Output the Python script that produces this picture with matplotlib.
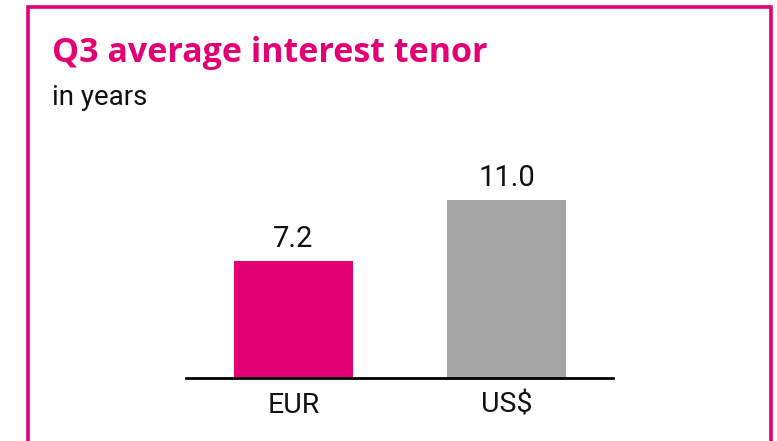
import matplotlib
matplotlib.use('Agg')
import matplotlib.pyplot as plt
from matplotlib.patches import Rectangle

categories = ['EUR', 'US$']
values = [7.2, 11.0]
labels = ['7.2', '11.0']
colors = ['#E20074', '#A5A5A5']

magenta = '#E20074'
plt.rcParams['font.family'] = ['Roboto', 'DejaVu Sans']

W, H = 777, 441
fig = plt.figure(figsize=(W / 100, H / 100), dpi=100)

# pink frame, bottom edge runs off the image
fig.patches.append(Rectangle((27.5 / W, -0.1), 743 / W, 1.1 - 7.5 / H,
                             transform=fig.transFigure, fill=False,
                             edgecolor=magenta, linewidth=2.6))

ax = fig.add_axes([186 / W, 1 - 378 / H, 427 / W, 218 / H])
x = [0, 1]
ax.bar(x, values, width=0.56, color=colors)
for xi, v, t in zip(x, values, labels):
    ax.text(xi, v + 0.86, t, ha='center', va='baseline', fontsize=21, color='#111111')

ax.set_xlim(-0.505, 1.5)
ax.set_ylim(0, 218 / 16.2)
ax.set_xticks(x)
ax.set_xticklabels(categories, fontsize=20.5, color='#111111')
ax.tick_params(axis='x', length=0, pad=10)
ax.set_yticks([])
for s in ['top', 'left', 'right']:
    ax.spines[s].set_visible(False)
ax.spines['bottom'].set_linewidth(2)
ax.spines['bottom'].set_color('black')

fig.text(52 / W, 1 - 62 / H, 'Q3 average interest tenor', fontsize=24.5,
         fontweight='bold', family=['Open Sans', 'DejaVu Sans'],
         color=magenta, ha='left', va='baseline')
fig.text(52 / W, 1 - 105 / H, 'in years', fontsize=20, color='#111111',
         ha='left', va='baseline')

fig.savefig('out.png', dpi=100)
